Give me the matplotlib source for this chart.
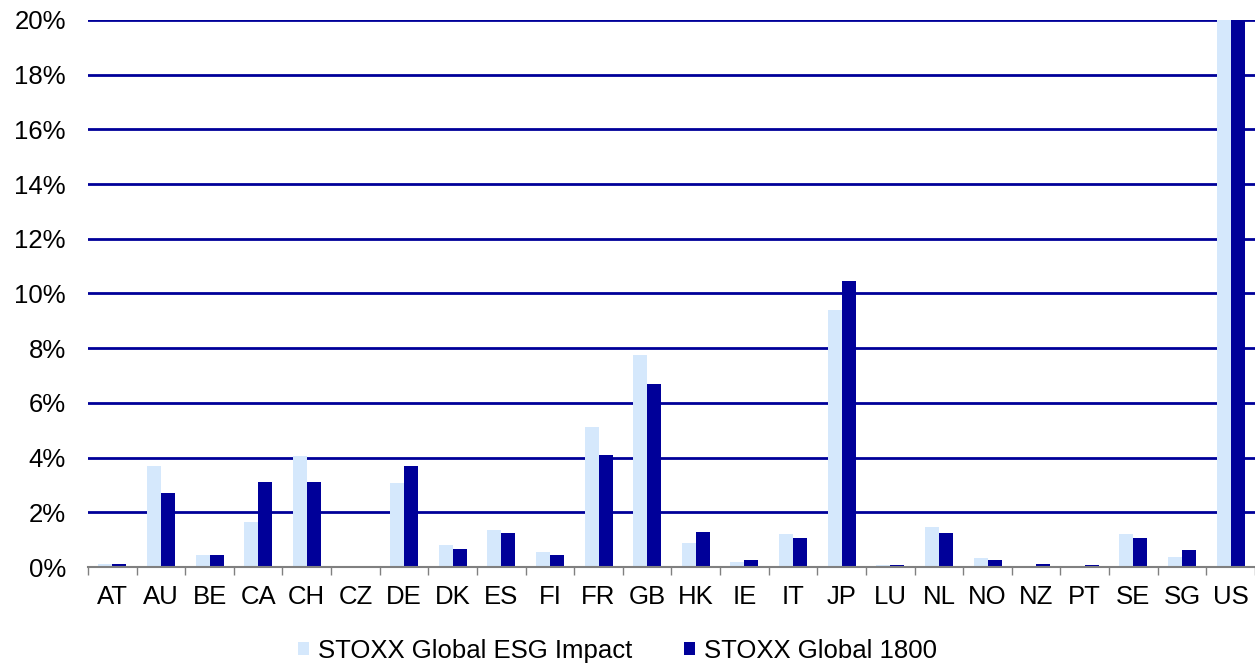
import numpy as np
import matplotlib.pyplot as plt
from matplotlib.ticker import FuncFormatter

plt.rcParams['font.family'] = ['Liberation Sans', 'DejaVu Sans']

countries = ['AT', 'AU', 'BE', 'CA', 'CH', 'CZ', 'DE', 'DK', 'ES', 'FI', 'FR', 'GB',
             'HK', 'IE', 'IT', 'JP', 'LU', 'NL', 'NO', 'NZ', 'PT', 'SE', 'SG', 'US']
esg_impact = [0.10, 3.70, 0.43, 1.63, 4.07, 0.00, 3.08, 0.79, 1.34, 0.56, 5.12, 7.75,
              0.88, 0.17, 1.22, 9.40, 0.09, 1.45, 0.33, 0.05, 0.05, 1.22, 0.35, 52.0]
global_1800 = [0.11, 2.69, 0.45, 3.10, 3.11, 0.02, 3.68, 0.67, 1.24, 0.43, 4.11, 6.69,
               1.27, 0.24, 1.05, 10.46, 0.09, 1.24, 0.27, 0.10, 0.06, 1.08, 0.61, 54.0]

light = '#D5E8FC'
dark = '#000099'

fig = plt.figure(figsize=(12.55, 6.64), dpi=100)
ax = fig.add_axes([0.0701, 0.146, 0.9299, 0.824])

x = np.arange(len(countries))
w = 0.288
ax.bar(x - w / 2, esg_impact, w, color=light, label='STOXX Global ESG Impact', zorder=3)
ax.bar(x + w / 2, global_1800, w, color=dark, label='STOXX Global 1800', zorder=3)

ax.set_xlim(-0.5, len(countries) - 0.5)
ax.set_ylim(0, 20)
ax.set_yticks(np.arange(0, 21, 2))
ax.yaxis.set_major_formatter(FuncFormatter(lambda v, p: f'{v:.0f}%'))
for y in range(2, 21, 2):
    ax.axhline(y, color=dark, lw=2, zorder=2)

ax.set_xticks(x)
ax.set_xticklabels(countries)
ax.set_xticks(np.arange(-0.5, len(countries), 1), minor=True)
ax.tick_params(axis='x', which='major', length=0, labelsize=18.5, pad=13)
ax.tick_params(axis='x', which='minor', length=6, color='#808080', width=1)
ax.tick_params(axis='y', length=0, labelsize=18.5, pad=16)

for s in ['top', 'right', 'left']:
    ax.spines[s].set_visible(False)
ax.spines['bottom'].set_color('#808080')
ax.spines['bottom'].set_linewidth(1.5)
ax.spines['bottom'].set_zorder(4)

fig.legend(loc='center', bbox_to_anchor=(0.492, 0.02), ncol=2, frameon=False,
           fontsize=18.5, handlelength=0.45, handleheight=0.45, handletextpad=0.35,
           columnspacing=2.0, borderpad=0)

fig.savefig('out.png', dpi=100)
